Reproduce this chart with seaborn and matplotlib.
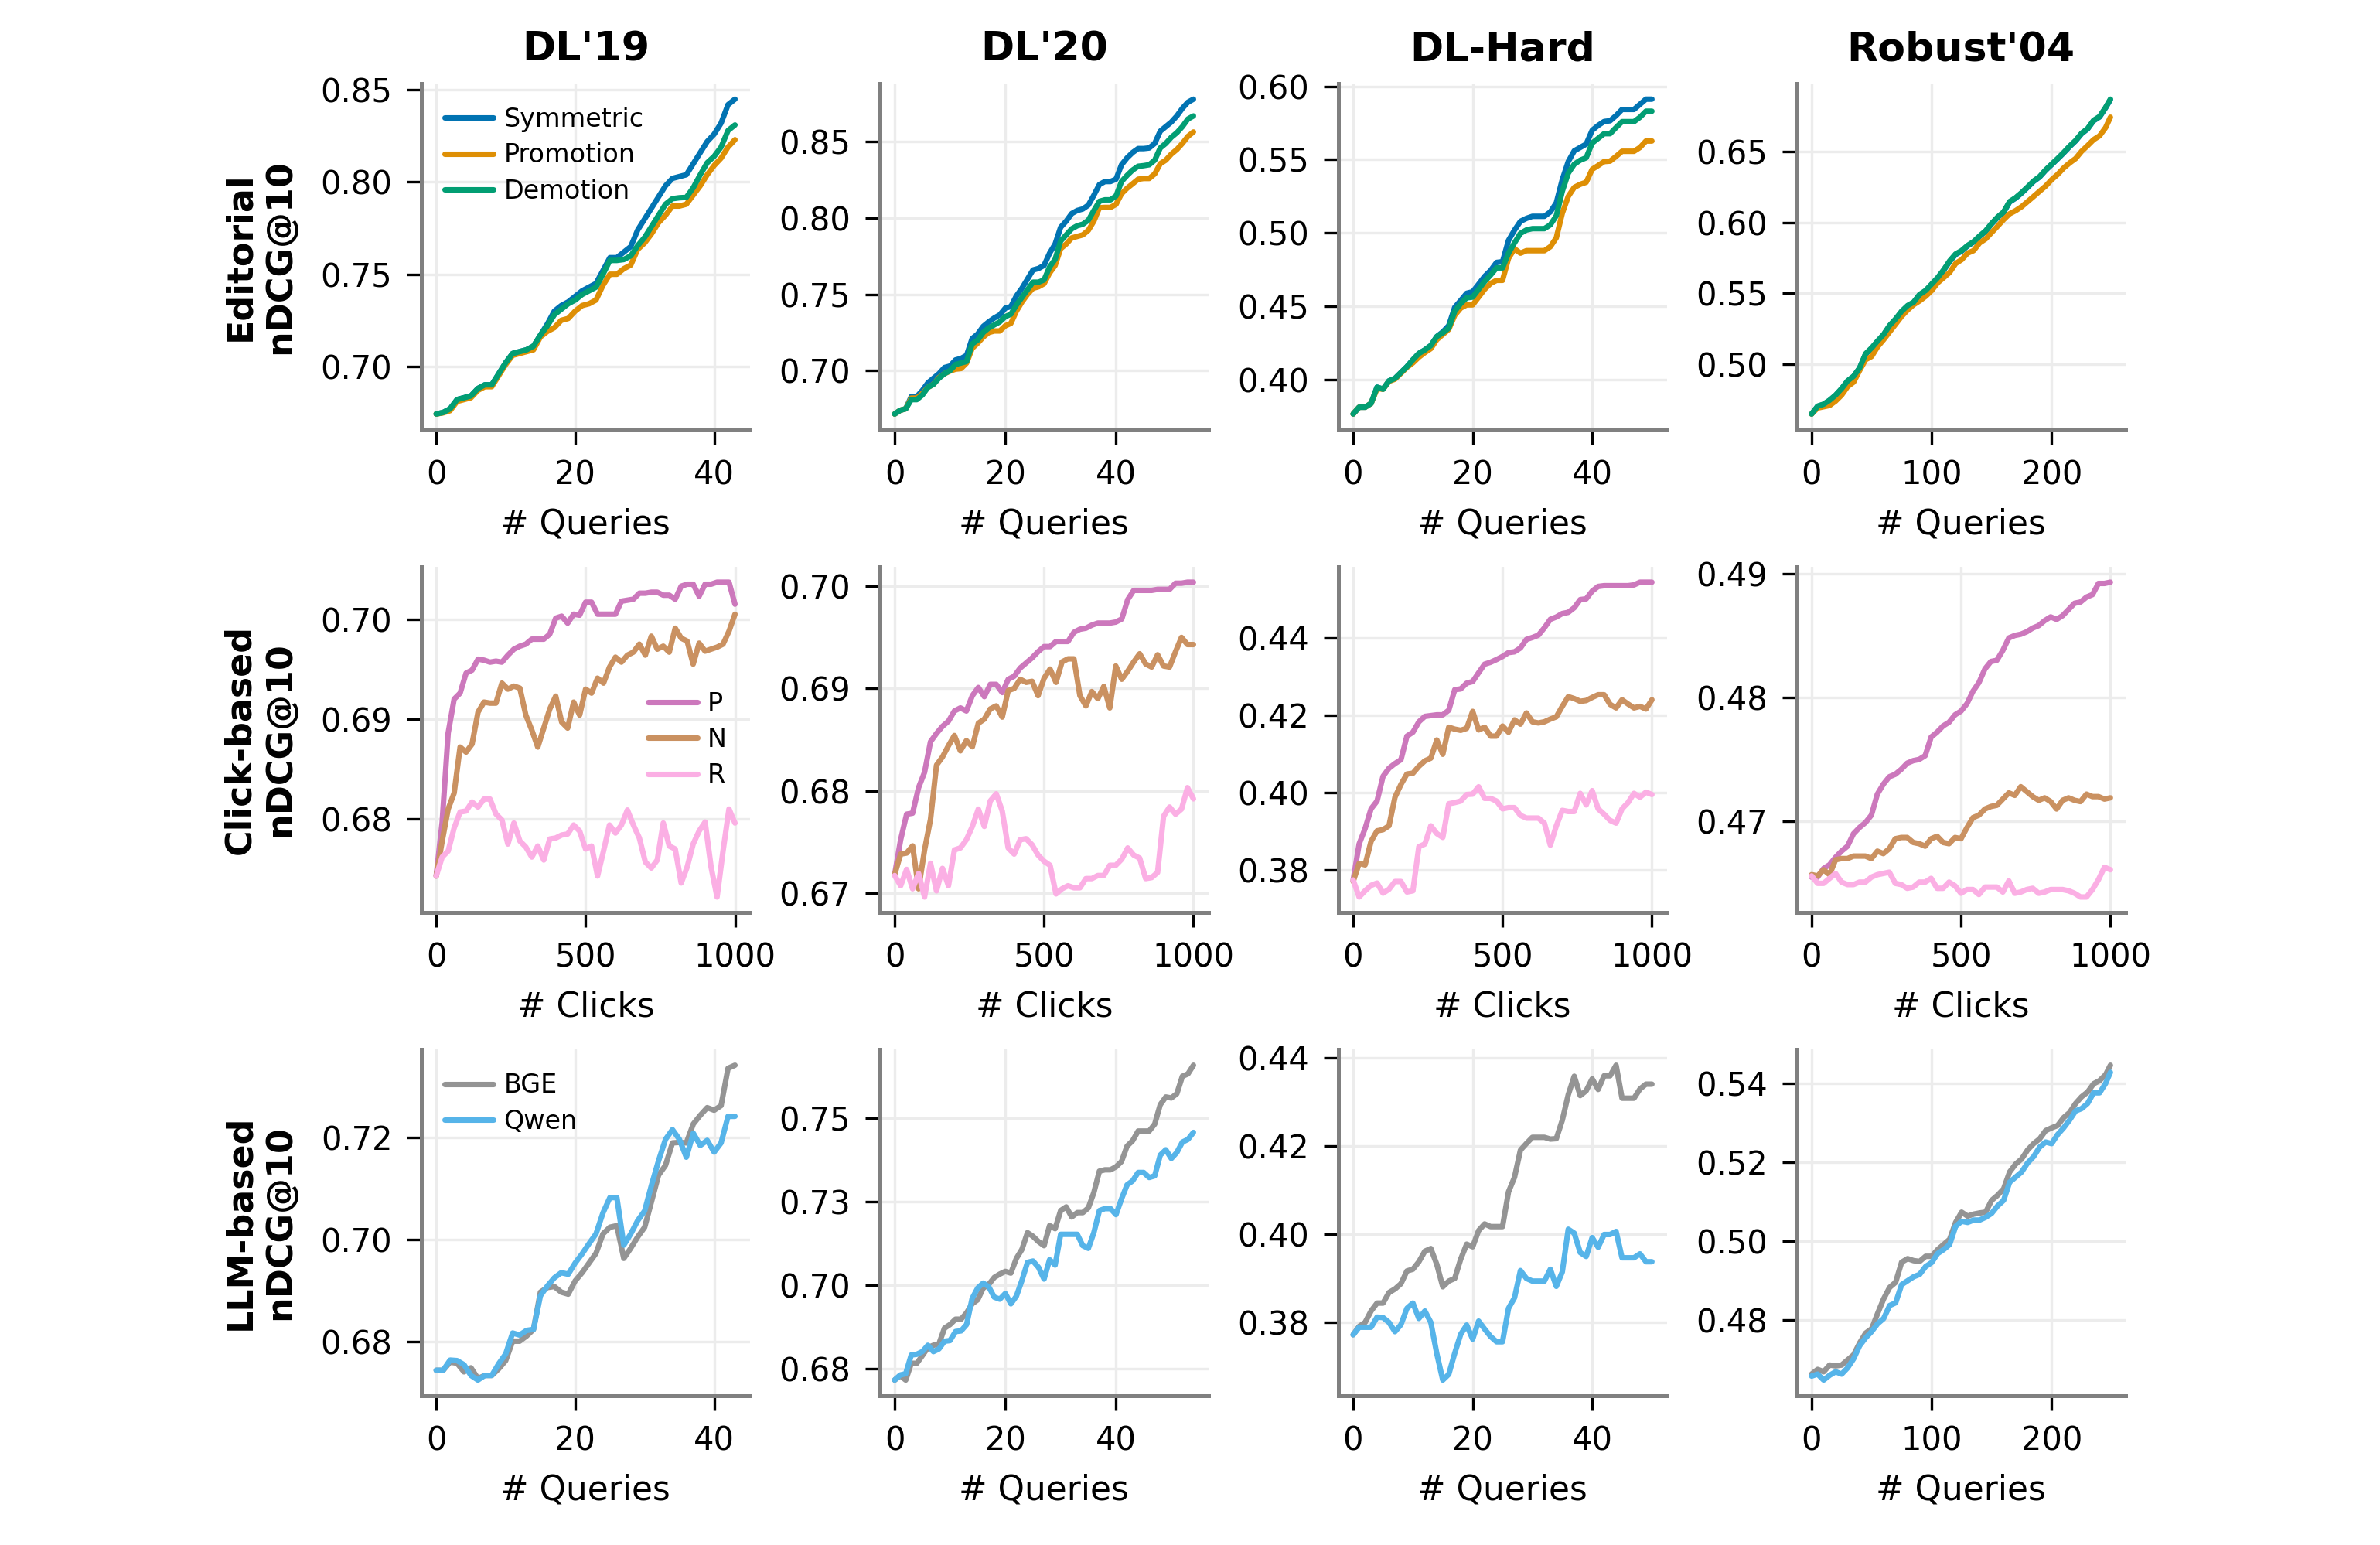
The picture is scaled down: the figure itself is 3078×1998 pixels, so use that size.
import matplotlib
matplotlib.use("Agg")
from matplotlib import pyplot as plt
from matplotlib.ticker import FormatStrFormatter, MaxNLocator
import seaborn as sns
import pandas as pd

# ---------------- data ----------------
datasets = ["DL'19", "DL'20", "DL-Hard", "Robust'04"]
row_labels = ["Editorial\nnDCG@10", "Click-based\nnDCG@10", "LLM-based\nnDCG@10"]

q_dl19 = list(range(44))
q_dl20 = list(range(55))
q_hard = list(range(51))
q_rob = list(range(0, 250, 5)) + [249]
clicks = list(range(0, 1001, 20))

# editorial
ed_dl19_sym = [0.6742, 0.675, 0.677, 0.682, 0.683, 0.684, 0.688, 0.690, 0.690, 0.696,
               0.702, 0.707, 0.708, 0.709, 0.711, 0.717, 0.723, 0.730, 0.733, 0.735,
               0.738, 0.741, 0.743, 0.745, 0.752, 0.759, 0.759, 0.762, 0.765, 0.774,
               0.780, 0.786, 0.792, 0.798, 0.802, 0.803, 0.804, 0.810, 0.816, 0.822,
               0.826, 0.832, 0.842, 0.845]
ed_dl19_pro = [0.6742, 0.6748, 0.676, 0.681, 0.682, 0.683, 0.687, 0.689, 0.689, 0.695,
               0.701, 0.706, 0.707, 0.708, 0.709, 0.716, 0.719, 0.721, 0.725, 0.726,
               0.730, 0.733, 0.734, 0.736, 0.744, 0.750, 0.750, 0.753, 0.755, 0.7635,
               0.767, 0.772, 0.778, 0.782, 0.787, 0.787, 0.788, 0.793, 0.798, 0.804,
               0.809, 0.813, 0.819, 0.823]
ed_dl19_dem = [0.6742, 0.675, 0.677, 0.682, 0.683, 0.684, 0.688, 0.690, 0.690, 0.696,
               0.702, 0.707, 0.708, 0.709, 0.711, 0.717, 0.722, 0.728, 0.731, 0.734,
               0.736, 0.739, 0.741, 0.743, 0.750, 0.7575, 0.7575, 0.758, 0.760, 0.7655,
               0.770, 0.776, 0.782, 0.788, 0.791, 0.7915, 0.7917, 0.797, 0.804, 0.8105,
               0.814, 0.819, 0.828, 0.831]

ed_dl20_sym = [0.6716, 0.674, 0.675, 0.683, 0.683, 0.687, 0.692, 0.695, 0.698, 0.702,
               0.703, 0.707, 0.708, 0.710, 0.721, 0.724, 0.729, 0.732, 0.7345, 0.7366,
               0.741, 0.742, 0.749, 0.754, 0.760, 0.766, 0.767, 0.769, 0.777, 0.783,
               0.794, 0.798, 0.803, 0.805, 0.806, 0.8085, 0.815, 0.822, 0.824, 0.824,
               0.8255, 0.835, 0.8395, 0.843, 0.8456, 0.8456, 0.846, 0.849, 0.857, 0.860,
               0.863, 0.867, 0.872, 0.876, 0.878]
ed_dl20_pro = [0.6716, 0.674, 0.675, 0.682, 0.682, 0.685, 0.689, 0.691, 0.6954, 0.698,
               0.6997, 0.701, 0.7014, 0.705, 0.7146, 0.718, 0.722, 0.725, 0.726, 0.726,
               0.7294, 0.731, 0.739, 0.745, 0.750, 0.754, 0.755, 0.757, 0.764, 0.769,
               0.780, 0.783, 0.787, 0.788, 0.789, 0.792, 0.798, 0.8068, 0.807, 0.807,
               0.809, 0.816, 0.8196, 0.8225, 0.8255, 0.826, 0.826, 0.829, 0.8357, 0.838,
               0.842, 0.845, 0.849, 0.8536, 0.8565]
ed_dl20_dem = [0.6716, 0.674, 0.675, 0.681, 0.681, 0.684, 0.689, 0.691, 0.695, 0.698,
               0.700, 0.704, 0.705, 0.706, 0.7175, 0.720, 0.725, 0.728, 0.730, 0.732,
               0.7354, 0.737, 0.743, 0.748, 0.753, 0.758, 0.758, 0.7595, 0.768, 0.773,
               0.785, 0.789, 0.793, 0.795, 0.796, 0.7986, 0.805, 0.811, 0.812, 0.812,
               0.8145, 0.824, 0.828, 0.8315, 0.834, 0.8344, 0.835, 0.838, 0.846, 0.849,
               0.853, 0.856, 0.860, 0.865, 0.867]

ed_hard_sym = [0.3768, 0.3814, 0.3814, 0.384, 0.395, 0.3937, 0.3993, 0.401, 0.405, 0.409,
               0.4137, 0.418, 0.4204, 0.4234, 0.4295, 0.4327, 0.437, 0.4494, 0.4541, 0.459,
               0.460, 0.4652, 0.4705, 0.4745, 0.480, 0.4805, 0.495, 0.502, 0.508, 0.510,
               0.5114, 0.5114, 0.5114, 0.5144, 0.5206, 0.5364, 0.5487, 0.556, 0.5583, 0.5606,
               0.570, 0.5733, 0.576, 0.5765, 0.580, 0.5842, 0.5842, 0.5842, 0.5877, 0.5912,
               0.5912]
ed_hard_pro = [0.3768, 0.3814, 0.3814, 0.384, 0.394, 0.3937, 0.399, 0.4005, 0.4045, 0.4085,
               0.4116, 0.4155, 0.4186, 0.4213, 0.4274, 0.4309, 0.4344, 0.444, 0.4489, 0.4511,
               0.4511, 0.4564, 0.4617, 0.4657, 0.4678, 0.4678, 0.4828, 0.4893, 0.4863, 0.488,
               0.488, 0.488, 0.488, 0.4907, 0.4968, 0.5135, 0.525, 0.5311, 0.5332, 0.5346,
               0.5434, 0.546, 0.5487, 0.549, 0.5522, 0.5557, 0.5557, 0.5557, 0.5583, 0.5627,
               0.5627]
ed_hard_dem = [0.3768, 0.3814, 0.3814, 0.384, 0.395, 0.3937, 0.3993, 0.401, 0.405, 0.409,
               0.4137, 0.418, 0.4204, 0.4234, 0.4295, 0.432, 0.4353, 0.4467, 0.452, 0.4559,
               0.4564, 0.4617, 0.467, 0.4714, 0.4763, 0.4763, 0.4863, 0.4933, 0.4998, 0.5021,
               0.503, 0.503, 0.503, 0.5056, 0.5118, 0.5285, 0.5408, 0.5469, 0.5496, 0.5513,
               0.5613, 0.5645, 0.5677, 0.5677, 0.5719, 0.5759, 0.5759, 0.5759, 0.5789, 0.583,
               0.583]

ed_rob_sym = [0.4651, 0.4704, 0.4718, 0.4746, 0.4782, 0.4828, 0.4882, 0.4915, 0.4973, 0.5072,
              0.5113, 0.5162, 0.5208, 0.5271, 0.5317, 0.5371, 0.5411, 0.5435, 0.5489, 0.5517,
              0.5562, 0.5607, 0.5662, 0.5724, 0.5773, 0.5797, 0.5834, 0.5861, 0.5901, 0.5937,
              0.5989, 0.6034, 0.607, 0.6143, 0.617, 0.6206, 0.6246, 0.6288, 0.6319, 0.6366,
              0.6406, 0.6446, 0.6488, 0.6533, 0.6573, 0.6624, 0.6657, 0.6715, 0.6742, 0.6806,
              0.6864]
ed_rob_pro = [0.4651, 0.4693, 0.4702, 0.4711, 0.4742, 0.4784, 0.4844, 0.4875, 0.4957, 0.5033,
              0.5056, 0.5124, 0.5174, 0.5229, 0.5283, 0.5338, 0.5383, 0.542, 0.5447, 0.5479,
              0.5519, 0.5574, 0.561, 0.5647, 0.571, 0.5737, 0.5783, 0.5801, 0.5855, 0.5883,
              0.5928, 0.5973, 0.6019, 0.606, 0.6082, 0.611, 0.6146, 0.6182, 0.6219, 0.6255,
              0.63, 0.6337, 0.6382, 0.6418, 0.6449, 0.65, 0.654, 0.6582, 0.6609, 0.6667,
              0.674]
ed_rob_dem = [0.4651, 0.4706, 0.472, 0.4748, 0.4784, 0.483, 0.4884, 0.4917, 0.4975, 0.5075,
              0.5116, 0.5165, 0.5211, 0.5274, 0.532, 0.5374, 0.5414, 0.5438, 0.5492, 0.552,
              0.5565, 0.561, 0.5665, 0.5728, 0.5777, 0.5801, 0.5837, 0.5864, 0.5904, 0.594,
              0.5992, 0.6037, 0.6073, 0.6146, 0.6173, 0.6209, 0.6249, 0.6291, 0.6322, 0.6369,
              0.6409, 0.6449, 0.6491, 0.6536, 0.6576, 0.6627, 0.666, 0.6718, 0.6745, 0.6809,
              0.6867]

# click-based (every 20 clicks)
ck_dl19_p = [0.6743, 0.6797, 0.6886, 0.692, 0.6926, 0.6946, 0.6949, 0.696, 0.6959, 0.6957,
             0.6958, 0.6957, 0.6964, 0.697, 0.6973, 0.6975, 0.698, 0.698, 0.698, 0.6985,
             0.7001, 0.7003, 0.6996, 0.7005, 0.7004, 0.7017, 0.7017, 0.7005, 0.7005, 0.7005,
             0.7005, 0.7018, 0.7019, 0.702, 0.7026, 0.7026, 0.7027, 0.7027, 0.7024, 0.7024,
             0.702, 0.7033, 0.7035, 0.7035, 0.7023, 0.7035, 0.7035, 0.7037, 0.7037, 0.7037,
             0.7015]
ck_dl19_n = [0.6743, 0.6778, 0.681, 0.6826, 0.6872, 0.6867, 0.6875, 0.6907, 0.6917, 0.6916,
             0.6916, 0.6936, 0.693, 0.6933, 0.6931, 0.6904, 0.6889, 0.6872, 0.6891, 0.691,
             0.6923, 0.6897, 0.6891, 0.6917, 0.6904, 0.693, 0.6926, 0.6941, 0.6936, 0.6952,
             0.6962, 0.6957, 0.6964, 0.6967, 0.6975, 0.6964, 0.6983, 0.697, 0.6973, 0.6967,
             0.6991, 0.6981, 0.6978, 0.6955, 0.6976, 0.6968, 0.697, 0.6972, 0.6975, 0.6988,
             0.7005]
ck_dl19_r = [0.6743, 0.6762, 0.6768, 0.6791, 0.6807, 0.6808, 0.6817, 0.6812, 0.682, 0.682,
             0.6805, 0.6799, 0.6775, 0.6796, 0.6778, 0.6772, 0.6762, 0.6773, 0.6759, 0.678,
             0.6781, 0.6784, 0.6785, 0.6794, 0.6788, 0.677, 0.6773, 0.6743, 0.6768, 0.6794,
             0.6786, 0.6794, 0.6809, 0.6794, 0.6781, 0.6757, 0.6751, 0.6759, 0.6796, 0.6773,
             0.677, 0.6736, 0.6752, 0.6775, 0.6788, 0.6797, 0.6752, 0.6722, 0.6768, 0.681,
             0.6796]

ck_dl20_p = [0.6718, 0.6752, 0.6777, 0.6778, 0.6803, 0.6818, 0.6848, 0.6856, 0.6863, 0.6868,
             0.6878, 0.6881, 0.6878, 0.6893, 0.6901, 0.6892, 0.6904, 0.6904, 0.6896, 0.6909,
             0.6912, 0.692, 0.6925, 0.693, 0.6936, 0.6941, 0.6941, 0.6946, 0.6946, 0.6946,
             0.6955, 0.6958, 0.6959, 0.6962, 0.6964, 0.6964, 0.6964, 0.6965, 0.6968, 0.6987,
             0.6996, 0.6996, 0.6996, 0.6996, 0.6997, 0.6997, 0.6997, 0.7003, 0.7003, 0.7004,
             0.7004]
ck_dl20_n = [0.6718, 0.6738, 0.6739, 0.6746, 0.6704, 0.6742, 0.6772, 0.6825, 0.6833, 0.6844,
             0.6854, 0.6839, 0.6849, 0.6843, 0.6866, 0.687, 0.688, 0.6883, 0.6872, 0.6898,
             0.69, 0.6909, 0.6906, 0.6907, 0.6893, 0.691, 0.6919, 0.6906, 0.6926, 0.6929,
             0.6929, 0.6893, 0.6883, 0.6897, 0.689, 0.6902, 0.6881, 0.6922, 0.6909, 0.6917,
             0.6926, 0.6934, 0.6924, 0.6921, 0.6933, 0.6922, 0.6921, 0.6936, 0.695, 0.6943,
             0.6943]
ck_dl20_r = [0.6717, 0.6707, 0.6723, 0.6704, 0.6719, 0.6696, 0.6729, 0.6702, 0.6724, 0.6707,
             0.6742, 0.6744, 0.6752, 0.6765, 0.6782, 0.6765, 0.679, 0.6797, 0.678, 0.6744,
             0.6738, 0.6752, 0.6753, 0.6747, 0.6737, 0.6731, 0.6727, 0.6699, 0.6704, 0.6707,
             0.6705, 0.6705, 0.6714, 0.6714, 0.6717, 0.6717, 0.6727, 0.6727, 0.6733, 0.6744,
             0.6737, 0.6734, 0.6714, 0.6715, 0.672, 0.6775, 0.6784, 0.6777, 0.6782, 0.6803,
             0.6792]

ck_hard_p = [0.3773, 0.3867, 0.3907, 0.3958, 0.3978, 0.4042, 0.4063, 0.4075, 0.4085, 0.4146,
             0.4156, 0.4183, 0.4197, 0.4199, 0.4201, 0.4201, 0.4213, 0.4266, 0.4268, 0.4283,
             0.4287, 0.431, 0.4332, 0.4337, 0.4344, 0.4352, 0.4362, 0.4364, 0.4374, 0.4396,
             0.4401, 0.4407, 0.4426, 0.4448, 0.4454, 0.4463, 0.4466, 0.4478, 0.4499, 0.4501,
             0.4521, 0.4533, 0.4535, 0.4535, 0.4535, 0.4535, 0.4535, 0.4537, 0.4544, 0.4544,
             0.4544]
ck_hard_n = [0.377, 0.3817, 0.3813, 0.3874, 0.3901, 0.3904, 0.3914, 0.3988, 0.4021, 0.4048,
             0.405, 0.4068, 0.4082, 0.4089, 0.4136, 0.4099, 0.4169, 0.4164, 0.4161, 0.4166,
             0.421, 0.4162, 0.4169, 0.4146, 0.4146, 0.4172, 0.4156, 0.4188, 0.4177, 0.4206,
             0.4183, 0.418, 0.4183, 0.419, 0.4196, 0.4223, 0.4248, 0.4243, 0.4236, 0.4238,
             0.4246, 0.4253, 0.4253, 0.4228, 0.4219, 0.424, 0.4229, 0.4219, 0.4223, 0.4216,
             0.424]
ck_hard_r = [0.3774, 0.373, 0.3746, 0.376, 0.3766, 0.374, 0.375, 0.377, 0.377, 0.3743,
             0.3746, 0.386, 0.3867, 0.3914, 0.3894, 0.3884, 0.3971, 0.3974, 0.3978, 0.3995,
             0.3996, 0.4015, 0.3985, 0.3985, 0.3978, 0.3958, 0.3961, 0.3961, 0.3941, 0.3934,
             0.3934, 0.3934, 0.3921, 0.3864, 0.3914, 0.3954, 0.3951, 0.3951, 0.3998, 0.3968,
             0.4005, 0.3958, 0.3944, 0.3928, 0.3921, 0.3958, 0.3974, 0.3998, 0.3988, 0.4001,
             0.3995]

ck_rob_p = [0.4655, 0.4655, 0.4662, 0.4665, 0.4671, 0.4676, 0.468, 0.469, 0.4695, 0.4699,
            0.4705, 0.4722, 0.473, 0.4736, 0.4738, 0.4742, 0.4747, 0.4749, 0.475, 0.4753,
            0.4768, 0.4772, 0.4777, 0.478, 0.4786, 0.4789, 0.4795, 0.4805, 0.4812, 0.4823,
            0.4829, 0.483, 0.4838, 0.4848, 0.485, 0.4851, 0.4853, 0.4856, 0.4858, 0.4862,
            0.4865, 0.4863, 0.4866, 0.4871, 0.4876, 0.4877, 0.4881, 0.4883, 0.4892, 0.4892,
            0.4893]
ck_rob_n = [0.4657, 0.4656, 0.4661, 0.4657, 0.4669, 0.467, 0.467, 0.4672, 0.4672, 0.4672,
            0.467, 0.4676, 0.4674, 0.4678, 0.4686, 0.4687, 0.4687, 0.4683, 0.4682, 0.468,
            0.4686, 0.4688, 0.4683, 0.4682, 0.4687, 0.4686, 0.4695, 0.4703, 0.4705, 0.471,
            0.4712, 0.4713, 0.4718, 0.4723, 0.4721, 0.4728, 0.4724, 0.472, 0.4717, 0.4719,
            0.4716, 0.471, 0.4717, 0.4719, 0.4717, 0.4716, 0.4722, 0.472, 0.472, 0.4718,
            0.4719]
ck_rob_r = [0.4656, 0.465, 0.465, 0.4654, 0.4658, 0.4651, 0.4649, 0.4649, 0.4651, 0.4651,
            0.4655, 0.4657, 0.4658, 0.4659, 0.465, 0.4649, 0.4646, 0.4647, 0.4651, 0.4651,
            0.4654, 0.4646, 0.4646, 0.4651, 0.4648, 0.4642, 0.4645, 0.4645, 0.4641, 0.4647,
            0.4647, 0.4647, 0.4643, 0.4652, 0.4642, 0.4643, 0.4645, 0.4646, 0.4642, 0.4643,
            0.4645, 0.4645, 0.4645, 0.4644, 0.4642, 0.4639, 0.4639, 0.4645, 0.4653, 0.4663,
            0.4661]

# LLM-based
llm_dl19_bge = [0.6744, 0.6744, 0.676, 0.6758, 0.6741, 0.6749, 0.6728, 0.6734, 0.6734, 0.6747,
                0.6763, 0.6801, 0.6801, 0.6811, 0.6824, 0.6897, 0.6906, 0.6908, 0.6897, 0.6893,
                0.6919, 0.6935, 0.6954, 0.6973, 0.7011, 0.7024, 0.7027, 0.6963, 0.6983, 0.7005,
                0.7024, 0.7075, 0.7126, 0.7145, 0.7189, 0.719, 0.7189, 0.7226, 0.7243, 0.7258,
                0.7253, 0.7262, 0.7335, 0.7341]
llm_dl19_qwen = [0.6744, 0.6744, 0.6764, 0.6763, 0.6755, 0.6734, 0.6725, 0.6734, 0.6734, 0.6757,
                 0.6776, 0.6817, 0.6813, 0.6822, 0.6824, 0.689, 0.6909, 0.6925, 0.6935, 0.6932,
                 0.6954, 0.6972, 0.6992, 0.7011, 0.7052, 0.7082, 0.7082, 0.6989, 0.7011, 0.7037,
                 0.7056, 0.7107, 0.7154, 0.7196, 0.7215, 0.7196, 0.7161, 0.7208, 0.7184, 0.7194,
                 0.7171, 0.7189, 0.7241, 0.7241]

llm_dl20_bge = [0.6716, 0.6729, 0.6716, 0.6766, 0.6766, 0.6789, 0.6813, 0.682, 0.6824, 0.6871,
                0.6882, 0.6898, 0.6898, 0.6917, 0.6944, 0.6956, 0.6991, 0.7002, 0.7023, 0.7033,
                0.7041, 0.7036, 0.708, 0.7107, 0.7157, 0.7146, 0.713, 0.7118, 0.7178, 0.7169,
                0.7223, 0.7234, 0.7204, 0.7217, 0.7217, 0.7231, 0.7277, 0.7341, 0.7345, 0.7345,
                0.7354, 0.737, 0.7416, 0.7432, 0.7461, 0.7461, 0.7461, 0.7482, 0.754, 0.7563,
                0.756, 0.7573, 0.7625, 0.7632, 0.7658]
llm_dl20_qwen = [0.6716, 0.6731, 0.6735, 0.6791, 0.6793, 0.6801, 0.682, 0.6801, 0.6809, 0.6832,
                 0.6834, 0.6861, 0.6863, 0.6882, 0.696, 0.6991, 0.7006, 0.6995, 0.6964, 0.6958,
                 0.6975, 0.6944, 0.6967, 0.7014, 0.7068, 0.7072, 0.7053, 0.7018, 0.7076, 0.706,
                 0.7152, 0.7152, 0.7152, 0.7152, 0.7118, 0.711, 0.7157, 0.7223, 0.7229, 0.7229,
                 0.7211, 0.7258, 0.73, 0.7312, 0.7337, 0.7337, 0.7322, 0.7327, 0.7389, 0.7405,
                 0.7379, 0.7397, 0.7428, 0.7436, 0.7457]

llm_hard_bge = [0.3771, 0.379, 0.3799, 0.3825, 0.3843, 0.3843, 0.3867, 0.3875, 0.3887, 0.3916,
                0.392, 0.3937, 0.3961, 0.3967, 0.3931, 0.388, 0.3893, 0.3899, 0.3943, 0.3977,
                0.3971, 0.4008, 0.4023, 0.4017, 0.4017, 0.4017, 0.4096, 0.4129, 0.4191, 0.4206,
                0.422, 0.422, 0.422, 0.4216, 0.4217, 0.4259, 0.4317, 0.4359, 0.4315, 0.4326,
                0.4353, 0.4329, 0.436, 0.436, 0.4384, 0.4309, 0.4309, 0.4309, 0.433, 0.4341,
                0.4341]
llm_hard_qwen = [0.3771, 0.3788, 0.3788, 0.3788, 0.3811, 0.381, 0.3799, 0.3778, 0.3794, 0.3831,
                 0.3843, 0.3808, 0.3825, 0.3799, 0.3728, 0.3668, 0.3681, 0.3729, 0.3772, 0.3793,
                 0.3761, 0.3802, 0.3784, 0.3767, 0.3755, 0.3755, 0.3831, 0.3855, 0.3917, 0.3899,
                 0.3893, 0.3893, 0.3893, 0.392, 0.3881, 0.3914, 0.4011, 0.4002, 0.3958, 0.3949,
                 0.3992, 0.397, 0.3999, 0.3999, 0.4006, 0.3946, 0.3946, 0.3946, 0.3955, 0.3937,
                 0.3937]

llm_rob_bge = [0.4662, 0.4674, 0.4668, 0.4685, 0.4683, 0.4685, 0.4698, 0.4711, 0.4741, 0.4766,
               0.4777, 0.4816, 0.4853, 0.4882, 0.4895, 0.4946, 0.4955, 0.495, 0.4948, 0.4961,
               0.4961, 0.4978, 0.4991, 0.5004, 0.5047, 0.5073, 0.5063, 0.5068, 0.5071, 0.5073,
               0.5103, 0.5116, 0.5132, 0.5175, 0.5195, 0.5208, 0.5231, 0.5247, 0.5259, 0.528,
               0.5287, 0.5293, 0.5313, 0.5326, 0.5349, 0.5366, 0.5378, 0.5399, 0.5407, 0.5422,
               0.5446]
llm_rob_qwen = [0.4657, 0.4662, 0.4647, 0.4659, 0.4668, 0.4662, 0.4678, 0.4701, 0.4734, 0.4754,
                0.477, 0.479, 0.4803, 0.4836, 0.4843, 0.4889, 0.4899, 0.4909, 0.4915, 0.4935,
                0.4945, 0.4968, 0.4978, 0.4991, 0.5037, 0.505, 0.5047, 0.5053, 0.5053, 0.506,
                0.507, 0.5089, 0.5103, 0.5149, 0.5162, 0.5175, 0.5198, 0.5214, 0.5238, 0.5251,
                0.5247, 0.527, 0.5287, 0.5307, 0.533, 0.5336, 0.5349, 0.5376, 0.5376, 0.54,
                0.5428]

# ---------------- style ----------------
sns.set_theme(style="ticks")
plt.rcParams['font.family'] = ['DejaVu Sans']
for key in ('text.color', 'axes.labelcolor', 'xtick.color', 'ytick.color',
            'xtick.labelcolor', 'ytick.labelcolor'):
    plt.rcParams[key] = 'black'

LW = 1.7

cb = sns.color_palette("colorblind")
palette_ed = {'Symmetric': cb[0], 'Promotion': cb[1], 'Demotion': cb[2]}
palette_ck = {'P': cb[4], 'N': cb[5], 'R': cb[6]}
palette_llm = {'BGE': cb[7], 'Qwen': cb[9]}

rows = [
    (palette_ed, "# Queries", [
        (q_dl19, {'Symmetric': ed_dl19_sym, 'Promotion': ed_dl19_pro, 'Demotion': ed_dl19_dem}),
        (q_dl20, {'Symmetric': ed_dl20_sym, 'Promotion': ed_dl20_pro, 'Demotion': ed_dl20_dem}),
        (q_hard, {'Symmetric': ed_hard_sym, 'Promotion': ed_hard_pro, 'Demotion': ed_hard_dem}),
        (q_rob, {'Symmetric': ed_rob_sym, 'Promotion': ed_rob_pro, 'Demotion': ed_rob_dem}),
    ], 'upper left'),
    (palette_ck, "# Clicks", [
        (clicks, {'P': ck_dl19_p, 'N': ck_dl19_n, 'R': ck_dl19_r}),
        (clicks, {'P': ck_dl20_p, 'N': ck_dl20_n, 'R': ck_dl20_r}),
        (clicks, {'P': ck_hard_p, 'N': ck_hard_n, 'R': ck_hard_r}),
        (clicks, {'P': ck_rob_p, 'N': ck_rob_n, 'R': ck_rob_r}),
    ], 'center right'),
    (palette_llm, "# Queries", [
        (q_dl19, {'BGE': llm_dl19_bge, 'Qwen': llm_dl19_qwen}),
        (q_dl20, {'BGE': llm_dl20_bge, 'Qwen': llm_dl20_qwen}),
        (q_hard, {'BGE': llm_hard_bge, 'Qwen': llm_hard_qwen}),
        (q_rob, {'BGE': llm_rob_bge, 'Qwen': llm_rob_qwen}),
    ], 'upper left'),
]

fig, axes = plt.subplots(3, 4, figsize=(10.26, 6.66), dpi=300)
fig.subplots_adjust(left=0.177, right=0.893, top=0.946, bottom=0.0966,
                    wspace=0.395, hspace=0.395)

for r, (palette, xlabel, panels, leg_loc) in enumerate(rows):
    for c, (xs, series) in enumerate(panels):
        ax = axes[r, c]
        frames = [pd.DataFrame({'x': xs, 'value': vals, 'method': name})
                  for name, vals in series.items()]
        df = pd.concat(frames, ignore_index=True)
        sns.lineplot(data=df, x='x', y='value', hue='method', hue_order=list(series),
                     palette=palette, linewidth=LW, errorbar=None,
                     legend=(c == 0), ax=ax)

        ax.grid(True, color='#ececec', linewidth=0.8)
        ax.set_axisbelow(True)
        sns.despine(ax=ax)
        for side in ('left', 'bottom'):
            ax.spines[side].set_color('#808080')
            ax.spines[side].set_linewidth(1.2)
        ax.tick_params(axis='both', which='major', labelsize=10, length=4.5,
                       width=0.8, color='black', labelcolor='black', pad=4.5)
        ax.yaxis.set_major_locator(MaxNLocator(nbins=5, steps=[1, 2, 2.5, 5, 10]))
        ax.xaxis.set_major_locator(MaxNLocator(nbins=3, steps=[1, 2, 2.5, 5, 10]))
        ax.yaxis.set_major_formatter(FormatStrFormatter('%.2f'))
        ax.set_xlabel(xlabel, fontsize=10.5, labelpad=5, color='black')
        if c == 0:
            ax.set_ylabel(row_labels[r], fontsize=11, fontweight='bold', labelpad=7,
                          color='black')
            leg = ax.legend(loc=leg_loc, frameon=False, fontsize=8,
                            handlelength=1.9, handletextpad=0.4, labelspacing=0.4)
            for h in leg.get_lines():
                h.set_linewidth(LW)
            for t in leg.get_texts():
                t.set_color('black')
        else:
            ax.set_ylabel('')
        if r == 0:
            ax.set_title(datasets[c], fontsize=12.5, fontweight='bold', pad=7,
                         color='black')

fig.savefig("out.png", dpi=300)
